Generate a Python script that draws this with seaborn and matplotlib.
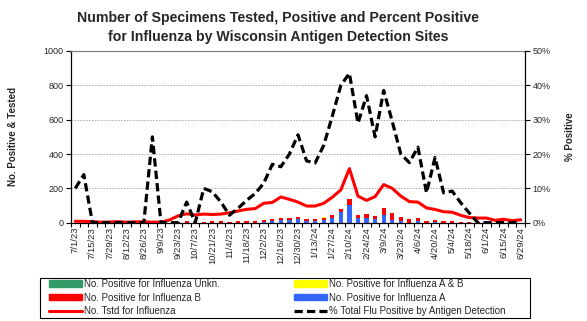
import numpy as np
import pandas as pd
import matplotlib
matplotlib.use("Agg")
import matplotlib.pyplot as plt
import seaborn as sns
from matplotlib.patches import Patch, Rectangle
from matplotlib.lines import Line2D

weeks = ["7/1/23", "7/8/23", "7/15/23", "7/22/23", "7/29/23", "8/5/23", "8/12/23", "8/19/23",
         "8/26/23", "9/2/23", "9/9/23", "9/16/23", "9/23/23", "9/30/23", "10/7/23", "10/14/23",
         "10/21/23", "10/28/23", "11/4/23", "11/11/23", "11/18/23", "11/25/23", "12/2/23",
         "12/9/23", "12/16/23", "12/23/23", "12/30/23", "1/6/24", "1/13/24", "1/20/24",
         "1/27/24", "2/3/24", "2/10/24", "2/17/24", "2/24/24", "3/2/24", "3/9/24", "3/16/24",
         "3/23/24", "3/30/24", "4/6/24", "4/13/24", "4/20/24", "4/27/24", "5/4/24", "5/11/24",
         "5/18/24", "5/25/24", "6/1/24", "6/8/24", "6/15/24", "6/22/24", "6/29/24"]

tested = [8, 8, 6, 3, 4, 6, 3, 5, 5, 3, 3, 16, 40, 52, 45, 50, 48, 50, 58, 68, 78, 82,
          113, 118, 150, 136, 120, 97, 97, 113, 148, 191, 315, 155, 130, 152, 222, 200,
          155, 123, 120, 86, 77, 64, 61, 43, 30, 27, 27, 14, 20, 12, 17]

pos_A = [0] * 22 + [6, 8, 16, 16, 21, 8, 8, 13, 29, 64, 104, 29, 29, 20, 46, 18, 11, 0, 7, 0, 5] + [0] * 10

pos_B = [0] * 13 + [8, 0, 4, 10, 10, 4, 10, 10, 10, 10, 13, 11, 11, 12, 13, 13, 12, 17, 15, 33,
                    17, 23, 19, 39, 40, 22, 20, 20, 10, 10, 10, 10, 5, 4, 2] + [0] * 5

pos_AB = [0] * 29 + [10] + [0] * 23
pos_unk = [0] * 53

pct_pos = [10, 14, 0, 0, 0, 0, 0, 0, 0, 25, 0, 0, 0, 6, 0, 10, 9, 6, 2.2, 4.2, 6.5, 8.5,
           11.5, 17, 16.3, 20, 25.6, 18, 17.4, 22.5, 31, 40, 43.5, 29, 37, 25, 38.5, 29.5,
           20, 17.5, 22, 8.7, 19, 8.7, 9.2, 5.8, 2.8, 0, 0, 0, 0, 0, 0]

C_UNK = "#339966"
C_B = "#ff0000"
C_AB = "#ffff00"
C_A = "#3366ff"

sns.set_style("white")
plt.rcParams["font.family"] = ["Liberation Sans", "DejaVu Sans"]

W, H = 587, 321
fig = plt.figure(figsize=(W / 100, H / 100), dpi=100)
L, R, T, B = 71, 525, 51, 222.7
ax = fig.add_axes([L / W, 1 - B / H, (R - L) / W, (B - T) / H])

idx = np.arange(len(weeks))
df = pd.DataFrame({"idx": idx, "A": pos_A, "B": pos_B, "AB": pos_AB, "UNK": pos_unk,
                   "tested": tested, "pct": pct_pos})
df["c1"] = df["A"]
df["c2"] = df["c1"] + df["B"]
df["c3"] = df["c2"] + df["AB"]
df["c4"] = df["c3"] + df["UNK"]

for col, colr in [("c4", C_UNK), ("c3", C_AB), ("c2", C_B), ("c1", C_A)]:
    sns.barplot(data=df, x="idx", y=col, color=colr, saturation=1, width=0.5,
                ax=ax, linewidth=0, zorder=2)

sns.lineplot(data=df, x="idx", y="tested", color="#ff0000", linewidth=2.2, ax=ax, zorder=3)

ax.set_xlim(-0.5, len(weeks) - 0.5)
ax.set_ylim(0, 1000)
ax.set_yticks(range(0, 1001, 200))
ax.set_yticklabels([str(v) for v in range(0, 1001, 200)], fontsize=6.5)
ax.set_xticks(idx[::2])
ax.set_xticklabels(weeks[::2], rotation=90, fontsize=6.8)
ax.set_xticks(np.arange(-0.5, len(weeks), 1), minor=True)
ax.tick_params(axis="x", which="major", length=0, pad=3)
ax.tick_params(axis="x", which="minor", length=3, width=0.8, color="black", direction="out", bottom=True)
ax.tick_params(axis="y", length=3.5, width=0.8, color="black", direction="out", left=True, pad=2)
ax.grid(axis="y", color="#a6a6a6", linestyle=(0, (2, 1.5)), linewidth=0.6)
ax.set_axisbelow(True)
ax.set_xlabel("")
ax.set_ylabel("No. Positive & Tested", fontsize=7, fontweight="bold", labelpad=18)
for s in ["left", "bottom"]:
    ax.spines[s].set_color("black")
    ax.spines[s].set_linewidth(0.9)
ax.spines["top"].set_color("#808080")
ax.spines["top"].set_linewidth(0.9)
ax.spines["right"].set_visible(False)

ax2 = ax.twinx()
sns.lineplot(data=df, x="idx", y="pct", color="black", linewidth=2.3, ax=ax2,
             dashes=False, zorder=4)
ax2.lines[0].set_dashes((2.6, 1.3))
ax2.set_ylim(0, 50)
ax2.set_yticks(range(0, 51, 10))
ax2.set_yticklabels([f"{v}%" for v in range(0, 51, 10)], fontsize=6.5)
ax2.tick_params(axis="y", length=3.5, width=0.8, color="black", direction="out", right=True, pad=2)
ax2.set_ylabel("% Positive", fontsize=7, fontweight="bold", labelpad=10)
ax2.set_xlabel("")
for s in ["left", "top", "bottom"]:
    ax2.spines[s].set_visible(False)
ax2.spines["right"].set_color("black")
ax2.spines["right"].set_linewidth(0.9)
ax2.grid(False)

fig.text(278 / W, 1 - 18 / H, "Number of Specimens Tested, Positive and Percent Positive",
         ha="center", va="center", fontsize=10.2, fontweight="bold")
fig.text(278 / W, 1 - 37 / H, "for Influenza by Wisconsin Antigen Detection Sites",
         ha="center", va="center", fontsize=10.2, fontweight="bold")

# legend frame
fig.patches.append(Rectangle((40 / W, 1 - 318 / H), 490 / W, 40 / H, transform=fig.transFigure,
                             fill=False, edgecolor="black", linewidth=0.8))

handles = [Patch(color=C_UNK), Patch(color=C_B),
           Line2D([], [], color="#ff0000", linewidth=2.2),
           Patch(color=C_AB), Patch(color=C_A),
           Line2D([], [], color="black", linewidth=2.3, dashes=(2.6, 1.3))]
labels = ["No. Positive for Influenza Unkn.", "No. Positive for Influenza B", "No. Tstd for Influenza",
          "No. Positive for Influenza A & B", "No. Positive for Influenza A",
          "% Total Flu Positive by Antigen Detection"]
leg = fig.legend(handles, labels, ncol=2, loc="upper left",
                 bbox_to_anchor=(49 / W, 1 - 279 / H),
                 bbox_transform=fig.transFigure,
                 fontsize=7, frameon=False,
                 handlelength=3.4, handleheight=0.6, handletextpad=0.2,
                 labelspacing=0.38, borderpad=0, borderaxespad=0, columnspacing=7.6)

fig.savefig("out.png", dpi=100)
